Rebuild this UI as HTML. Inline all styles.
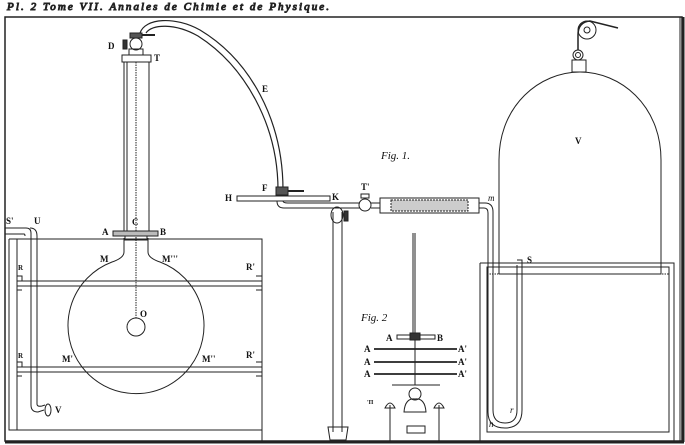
<!DOCTYPE html>
<html><head><meta charset="utf-8"><style>
body{margin:0;background:#fff}
svg{display:block}
text{font-family:"Liberation Serif",serif;font-weight:bold;font-size:9px;fill:#111}
text.i{font-style:italic;font-weight:normal}
</style></head><body>
<svg width="685" height="445" viewBox="0 0 685 445" xmlns="http://www.w3.org/2000/svg" fill="none" stroke="#222" stroke-width="1">
<text x="7" y="10" class="i" style="font-size:11px" textLength="322" lengthAdjust="spacing">Pl. 2 Tome VII. Annales  de  Chimie  et  de Physique.</text>
<!-- frame -->
<path d="M5 17 H682 V441 H5 Z" stroke-width="1.5"/>
<path d="M680 17 V441" stroke-width="1"/>
<path d="M683.5 17 V442 M5 442.5 H684" stroke-width="2"/>
<!-- left tank -->
<path d="M9 239 H262 V441 M9 239 V430 H262"/>
<path d="M17 281 H262 M17 286 H262 M17 367 H262 M17 372 H262 M17 281 V286 M17 367 V372 M17 239 V430"/>
<path d="M17 276 h5 v5 M17 286 v4 h5 M17 362 h5 v5 M17 372 v4 h5 M256 276 h6 M256 290 h6 M256 362 h6 M256 376 h6"/>
<!-- U pipe -->
<path d="M5 228 H26 Q31 228 31 233 V405 Q31 412 38 412 L44 410"/>
<path d="M5 234 H24 Q25 234 25 236 M37 236 Q37 228 30 228 M37 236 V404 Q37 407 42 406 L45 405"/>
<ellipse cx="48" cy="410" rx="3" ry="6"/>
<!-- flask -->
<path d="M124 238 V252 Q124 258 112 262 A68 68 0 1 0 160 262 Q148 258 148 252 V238"/>
<circle cx="136" cy="327" r="9"/>
<path d="M136 62 V318" stroke-dasharray="1.5 1"/>
<!-- collar -->
<rect x="113" y="231" width="45" height="5" fill="#bbb"/>
<rect x="125" y="236" width="22" height="4"/>
<!-- column -->
<path d="M124 62 V231 M149 62 V231 M127 62 V231"/>
<rect x="122" y="55" width="29" height="7"/>
<path d="M129 55 V49 H143 V55"/>
<circle cx="136" cy="44" r="6"/>
<rect x="123" y="40" width="4" height="9" fill="#333"/>
<rect x="130" y="33" width="12" height="5" fill="#555"/>
<path d="M142 35 H155" stroke-width="2"/>
<!-- arc E -->
<path d="M140 33 C145 18 175 16 200 30 C250 60 283 120 283 190" stroke-width="1.2"/>
<path d="M146 33 C152 24 175 23 198 36 C245 66 278 125 278 190" stroke-width="1.2"/>
<rect x="276" y="187" width="12" height="8" fill="#555"/>
<path d="M288 191 H304" stroke-width="2"/>
<!-- shelf and pipe -->
<rect x="237" y="196" width="93" height="5"/>
<path d="M277 201 Q277 208 284 208 H360 M283 201 Q283 203 288 203 H360"/>
<circle cx="365" cy="205" r="6"/>
<rect x="361" y="194" width="8" height="4"/>
<path d="M371 203 H380 M371 208 H380"/>
<rect x="380" y="198" width="99" height="15"/>
<rect x="391" y="200" width="77" height="11" fill="#ccc" stroke-dasharray="2 1"/>
<path d="M479 203 H485 Q493 203 493 212 V410 Q493 423 505 423 Q517 423 517 410 V265 M479 208 H484 Q488 208 488 213 V412 Q488 428 505 428 Q522 428 522 410 V260 H517"/>
<!-- vertical support -->
<path d="M333 212 V432 M342 212 V432"/>
<ellipse cx="337" cy="215" rx="6" ry="8"/>
<rect x="344" y="211" width="4" height="10" fill="#333"/>
<path d="M328 427 L330 440 H346 L348 427 Z"/>
<!-- right tank -->
<path d="M480 263 H674 V441 M480 263 V441 M487 267 H669 V432 H487 Z"/>
<path d="M487 274 H669" stroke-dasharray="1.5 1"/>
<!-- bell jar -->
<path d="M499 274 V160 C499 105 540 72 580 72 C620 72 661 105 661 160 V274 H499"/>
<rect x="572" y="60" width="14" height="12"/>
<circle cx="578" cy="55" r="5"/><circle cx="578" cy="55" r="2.5"/>
<circle cx="587" cy="30" r="9"/><circle cx="587" cy="30" r="3"/>
<path d="M578 50 L578 35 Q578 22 590 21 L618 28" stroke-width="1.5"/>
<!-- fig2 -->
<path d="M415 233 V338 M413 233 V338 M415 340 V385"/>
<rect x="397" y="335" width="38" height="4"/>
<rect x="410" y="333" width="10" height="7" fill="#333"/>
<path d="M374 349 H457 M374 362 H457 M374 374 H457" stroke-width="1.8"/>
<path d="M392 385 H440 M390 405 V441 M439 405 V441"/>
<circle cx="415" cy="394" r="6"/>
<path d="M404 412 Q405 398 415 399 Q425 398 426 412 Z"/>
<path d="M385 408 Q390 398 395 408 Z M434 408 Q439 398 444 408 Z"/>
<rect x="407" y="426" width="18" height="7"/>
<g stroke="none">
<text x="108" y="49">D</text><text x="154" y="61">T</text><text x="262" y="92">E</text>
<text x="225" y="201">H</text><text x="262" y="191">F</text><text x="332" y="200">K</text>
<text x="361" y="190">T'</text><text class="i" x="488" y="201">m</text><text x="527" y="263">S</text>
<text x="132" y="225">C</text><text x="102" y="235">A</text><text x="160" y="235">B</text>
<text x="100" y="262">M</text><text x="162" y="262">M'''</text><text x="140" y="317">O</text>
<text x="62" y="362">M'</text><text x="202" y="362">M''</text>
<text x="18" y="270" style="font-size:7px">R</text><text x="246" y="270">R'</text>
<text x="18" y="358" style="font-size:7px">R</text><text x="246" y="358">R'</text>
<text x="6" y="224">S'</text><text x="34" y="224">U</text><text x="55" y="413">V</text>
<text x="575" y="144">V</text><text class="i" x="510" y="413">r</text><text class="i" x="489" y="427">n</text>
<text class="i" x="381" y="159" style="font-size:11px">Fig. 1.</text>
<text class="i" x="361" y="321" style="font-size:11px">Fig. 2</text>
<text x="386" y="341">A</text><text x="437" y="341">B</text>
<text x="364" y="352">A</text><text x="458" y="352">A'</text>
<text x="364" y="365">A</text><text x="458" y="365">A'</text>
<text x="364" y="377">A</text><text x="458" y="377">A'</text>
<text x="367" y="404" style="font-size:6px">'Π</text>
</g>
</svg>
</body></html>
